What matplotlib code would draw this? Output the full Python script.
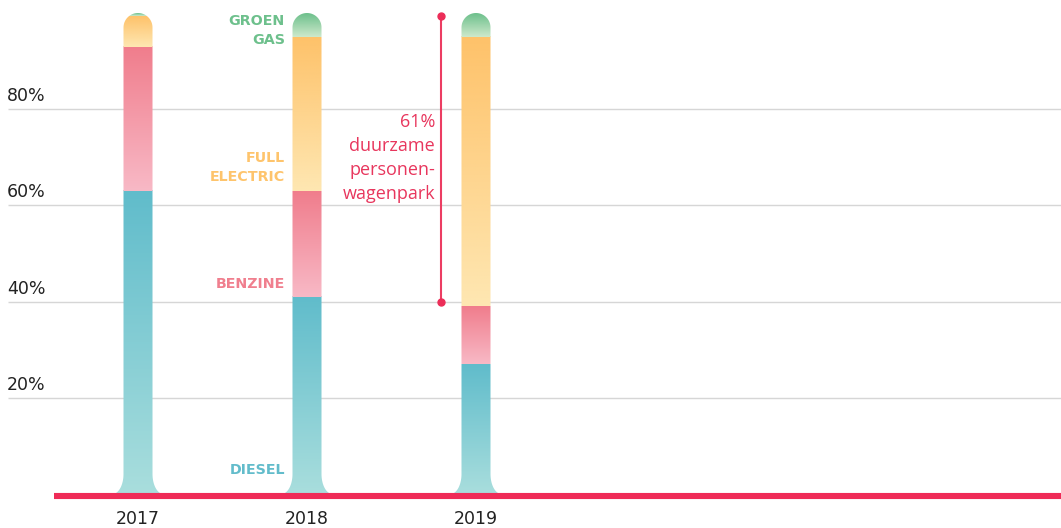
import numpy as np
import matplotlib
matplotlib.use('Agg')
import matplotlib.pyplot as plt
from matplotlib.path import Path
from matplotlib.patches import PathPatch
from matplotlib.colors import to_rgb

# ---- data ----
years = ['2017', '2018', '2019']
diesel = [63.0, 41.0, 27.0]
benzine = [30.0, 22.0, 12.0]
full_electric = [6.4, 32.0, 56.0]
groen_gas = [0.6, 5.0, 5.0]
segment_names = ['DIESEL', 'BENZINE', 'FULL\nELECTRIC', 'GROEN\nGAS']
yticks = [20, 40, 60, 80]
ytick_labels = ['20%', '40%', '60%', '80%']
annot_text = '61%\nduurzame\npersonen-\nwagenpark'
annot_range = (40.0, 99.4)

# ---- styling ----
seg_colors = [('#60bccb', '#a9dedd'),   # diesel (top, bottom)
              ('#f07d8c', '#f8b9c6'),   # benzine
              ('#fec26a', '#fee7b2'),   # full electric
              ('#69be89', '#cde9cc')]   # groen gas
label_colors = ['#62bccb', '#f07f8e', '#fec46c', '#6dc08c']
red = '#ef2b57'
font = 'DejaVu Sans'

W, H = 1061, 528
fig = plt.figure(figsize=(W / 100, H / 100), dpi=100)
ax = fig.add_axes([0, 0, 1, 1])
ax.set_axis_off()

# pixel <-> data mapping
px_per_x = 169.0
x0_px = 138.0
px_per_y = 4.81
y0_px = 494.0
xlim = (-x0_px / px_per_x, (W - x0_px) / px_per_x)
ylim = ((y0_px - H) / px_per_y, y0_px / px_per_y)

def dx(px):
    return px / px_per_x

def dy(px):
    return px / px_per_y

def xpx(p):
    return (p - x0_px) / px_per_x

def ypx(p):
    return (y0_px - p) / px_per_y

hw = dx(14.5)
cap = dy(14.5)
frx = dx(11)
fry = dy(20)

# gridlines
ax.hlines(yticks, xpx(8), xlim[1], color='#d6d6d6', lw=1.0, zorder=1)
for t, lab in zip(yticks, ytick_labels):
    ax.text(xpx(7), t + dy(13), lab, ha='left', va='center', fontsize=12.5,
            color='#222222', family=font)

def bar_path(x, top):
    verts = []
    verts.append((x - hw - frx, 0))
    verts.append((x + hw + frx, 0))
    cx, cy = x + hw + frx, fry
    for t in np.linspace(-np.pi / 2, -np.pi, 20):
        verts.append((cx + frx * np.cos(t), cy + fry * np.sin(t)))
    verts.append((x + hw, top - cap))
    for t in np.linspace(0, np.pi, 40):
        verts.append((x + hw * np.cos(t), top - cap + cap * np.sin(t)))
    verts.append((x - hw, fry))
    cx = x - hw - frx
    for t in np.linspace(0, -np.pi / 2, 20):
        verts.append((cx + frx * np.cos(t), fry + fry * np.sin(t)))
    verts.append(verts[0])
    codes = [Path.MOVETO] + [Path.LINETO] * (len(verts) - 2) + [Path.CLOSEPOLY]
    return Path(verts, codes)

series = [diesel, benzine, full_electric, groen_gas]
for i, yr in enumerate(years):
    vals = [s[i] for s in series]
    top = sum(vals)
    path = bar_path(i, top)
    patch = PathPatch(path, facecolor='none', edgecolor='none')
    ax.add_patch(patch)
    base = 0.0
    for v, (ct, cb) in zip(vals, seg_colors):
        n = 256
        c1, c2 = np.array(to_rgb(ct)), np.array(to_rgb(cb))
        f = np.linspace(0, 1, n)[:, None]
        grad = (c1[None, :] * (1 - f) + c2[None, :] * f)[:, None, :]
        im = ax.imshow(grad, extent=[i - hw - frx, i + hw + frx, base, base + v],
                       origin='upper', aspect='auto', interpolation='bilinear',
                       zorder=2)
        im.set_clip_path(patch)
        base += v
    ax.text(i, ypx(518.5), yr, ha='center', va='center', fontsize=12.5,
            color='#222222', family=font)

# segment labels next to 2018 bar
lab_y = [ypx(470), ypx(284), ypx(167.5), ypx(30.5)]
for name, c, yy in zip(segment_names, label_colors, lab_y):
    ax.text(xpx(285), yy, name, ha='right', va='center', fontsize=10.3,
            fontweight='bold', color=c, family=font, linespacing=1.45)

# baseline
ax.hlines(ypx(495.7), xpx(54), xlim[1], color=red, lw=4.4, zorder=5)

# annotation
ax_x = xpx(441)
ax.plot([ax_x, ax_x], annot_range, color='#ec3d62', lw=1.5, zorder=3)
ax.plot([ax_x, ax_x], annot_range, 'o', color='#ec2d58', ms=5, zorder=4)
ax.text(xpx(435), ypx(158), annot_text, ha='right', va='center', fontsize=13,
        color='#e8365d', family='Open Sans', linespacing=1.42)

ax.set_xlim(*xlim)
ax.set_ylim(*ylim)
fig.savefig('out.png', dpi=100)
